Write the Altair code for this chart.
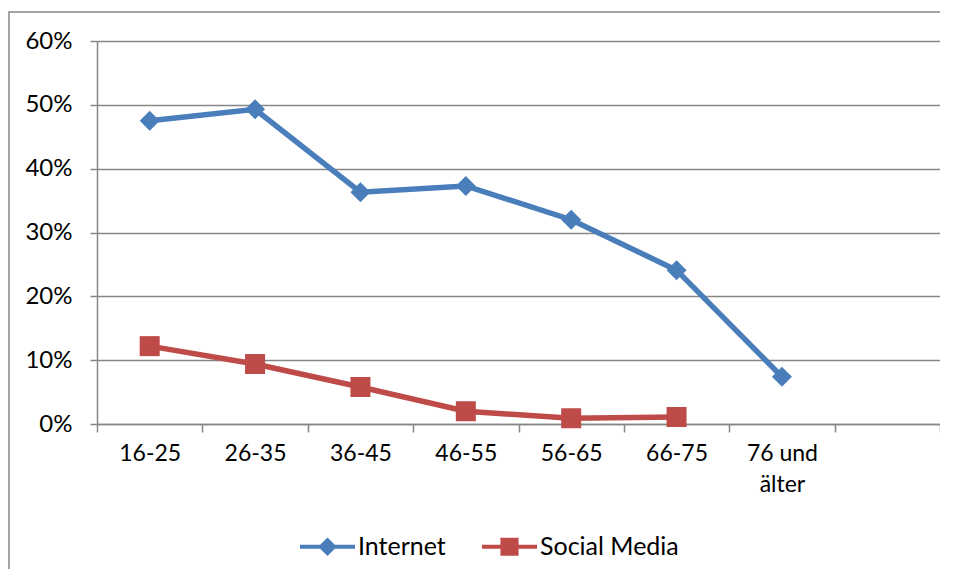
import altair as alt
import pandas as pd

categories = ["16-25", "26-35", "36-45", "46-55", "56-65", "66-75", "76 und älter", ""]
internet = [0.475, 0.493, 0.363, 0.373, 0.320, 0.241, 0.074]
social = [0.122, 0.094, 0.058, 0.020, 0.009, 0.011]
series = ["Internet", "Social Media"]
colors = ["#4A7EBB", "#BE4B48"]
y_ticks = [0.0, 0.1, 0.2, 0.3, 0.4, 0.5, 0.6]

rows = []
for cat, v in zip(categories, internet):
    rows.append({"age": cat, "value": v, "series": series[0]})
for cat, v in zip(categories, social):
    rows.append({"age": cat, "value": v, "series": series[1]})
df = pd.DataFrame(rows)

W, H = 843, 383
FONT = "Lato"
GRAY = "#868686"

x_enc = alt.X(
    "age:N",
    sort=categories,
    scale=alt.Scale(type="band", domain=categories, paddingInner=0, paddingOuter=0),
    axis=alt.Axis(
        title=None,
        tickBand="extent",
        labelAngle=0,
        labelExpr="datum.label == '76 und älter' ? ['76 und', 'älter'] : datum.label",
        labelLineHeight=31,
        labelPadding=10,
        tickSize=8,
        grid=False,
    ),
)
y_enc = alt.Y(
    "value:Q",
    scale=alt.Scale(domain=[0, 0.6], nice=False),
    axis=alt.Axis(
        title=None,
        format=".0%",
        values=y_ticks,
        tickSize=7,
        labelPadding=18,
        grid=True,
        gridColor=GRAY,
        gridWidth=1.5,
    ),
)
color_main = alt.Color("series:N", scale=alt.Scale(domain=series, range=colors), legend=None)

base = alt.Chart(df)
lines = base.mark_line(strokeWidth=5.5).encode(x=x_enc, y=y_enc, color=color_main, detail="series:N")
points = base.mark_point(filled=True, opacity=1, size=400, strokeWidth=0).encode(
    x=x_enc,
    y=y_enc,
    color=color_main,
    shape=alt.Shape("series:N", scale=alt.Scale(domain=series, range=["diamond", "square"]), legend=None),
)

legend_paths = [
    "M-1,-0.075L1,-0.075L1,0.075L-1,0.075Z M0,-0.34L0.34,0L0,0.34L-0.34,0Z",
    "M-1,-0.075L1,-0.075L1,0.075L-1,0.075Z M-0.33,-0.33L0.33,-0.33L0.33,0.33L-0.33,0.33Z",
]
legend_props = dict(
    title=None,
    orient="none",
    legendX=203,
    legendY=478,
    direction="horizontal",
    symbolSize=3025,
    symbolStrokeWidth=0,
    labelFont=FONT,
    labelFontSize=25,
    labelColor="black",
    labelOffset=3,
    columnPadding=36,
)
legend_layer = base.transform_filter("false").mark_point(
    filled=True, opacity=1, size=3025, strokeWidth=0
).encode(
    x=x_enc,
    y=y_enc,
    color=alt.Color("series:N", scale=alt.Scale(domain=series, range=colors), legend=alt.Legend(**legend_props)),
    shape=alt.Shape("series:N", scale=alt.Scale(domain=series, range=legend_paths), legend=alt.Legend(**legend_props)),
)

frame = alt.Chart(pd.DataFrame({"a": [0]})).mark_rect(
    fill="transparent", stroke=GRAY, strokeWidth=1.5
).encode(
    x=alt.value(-88), x2=alt.value(W + 60), y=alt.value(-29), y2=alt.value(H + 220)
)

chart = (
    alt.layer(frame, lines, points, legend_layer)
    .resolve_scale(color="independent", shape="independent")
    .properties(
        width=W,
        height=H,
        autosize=alt.AutoSizeParams(type="none"),
        padding={"left": 89, "top": 33, "right": 0, "bottom": 145},
    )
    .configure_view(stroke=None)
    .configure_axis(
        domainColor=GRAY,
        domainWidth=1.5,
        tickColor=GRAY,
        tickWidth=1.5,
        labelFont=FONT,
        labelFontSize=23,
        labelColor="black",
    )
    .configure_axisY(labelFontSize=24)
)

chart.save("out.html", embed_options={"renderer": "svg", "actions": False})
